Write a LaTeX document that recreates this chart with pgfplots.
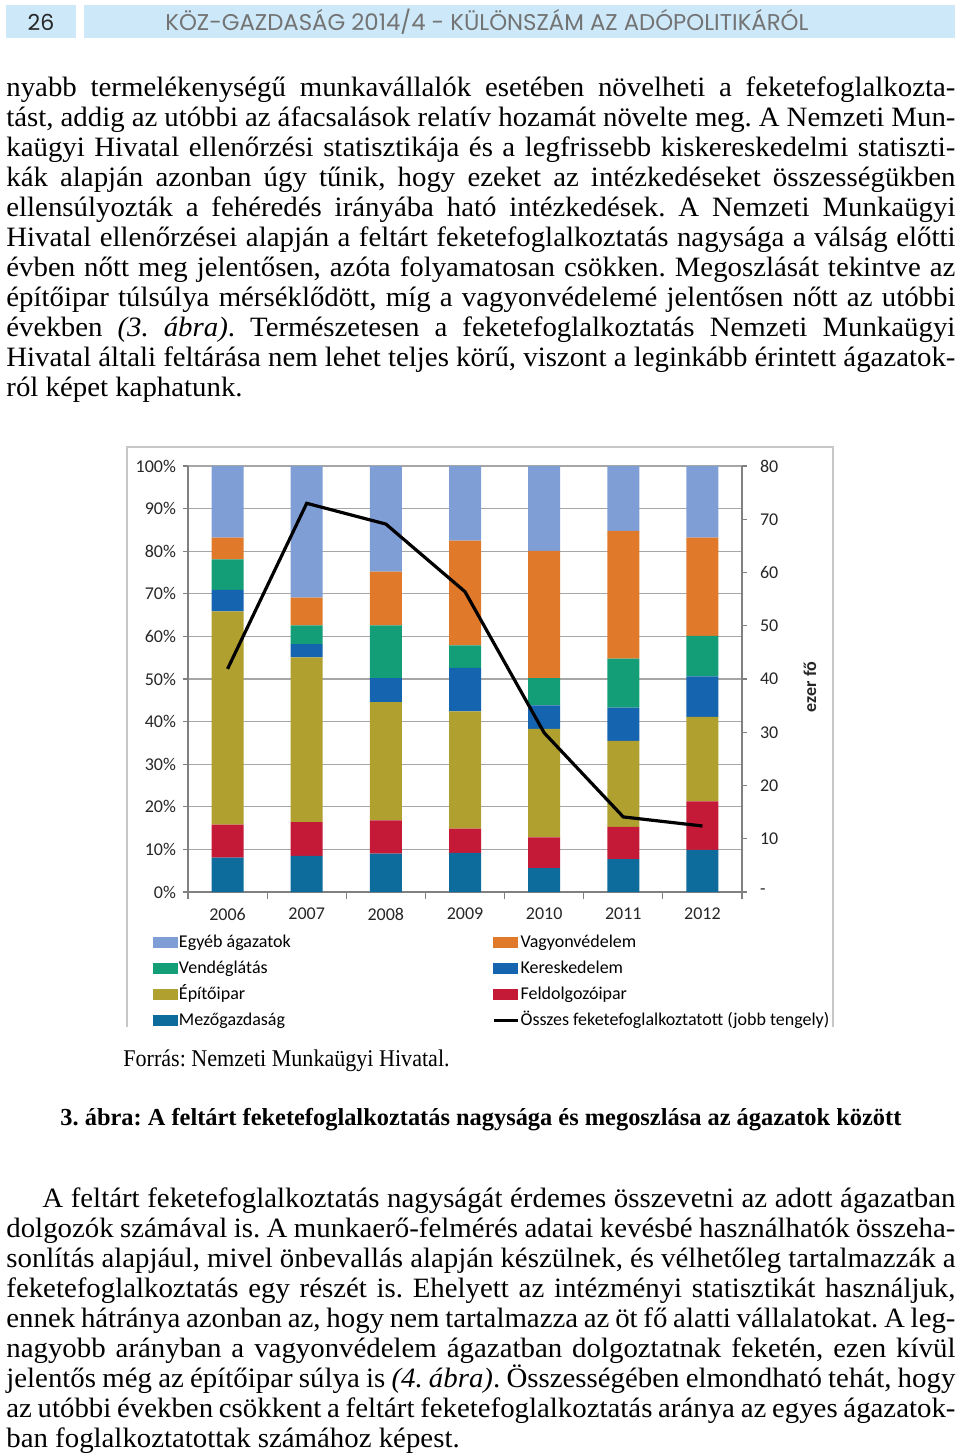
\documentclass[border=0pt]{standalone}
\usepackage{pgfplots}
\pgfplotsset{compat=1.18}
\usepackage{pgfplotstable}
\usepackage{fontspec}
\setmainfont{Liberation Serif}
\newfontfamily\bodyfont[FakeStretch=1.03]{Liberation Serif}
\newfontfamily\capfont[FakeStretch=0.92]{Liberation Serif}
\newfontfamily\chartfont{Carlito}
\newfontfamily\headfont{Poppins}

\definecolor{headblue}{RGB}{205,233,249}
\definecolor{cEgyeb}{RGB}{128,158,214}
\definecolor{cVagy}{RGB}{224,122,42}
\definecolor{cVend}{RGB}{19,158,120}
\definecolor{cKer}{RGB}{20,100,176}
\definecolor{cEpit}{RGB}{176,160,48}
\definecolor{cFeld}{RGB}{196,26,56}
\definecolor{cMezo}{RGB}{14,108,156}

% shares in %, bottom to top; osszes in thousand persons (right axis)
\pgfplotstableread{
x mezo feld epit ker vend vagy egyeb osszes
0 8.1 7.7 50.1 5.0 7.2 5.1 16.8 41.9
1 8.5 7.9 38.7 3.1 4.4 6.5 30.9 73.0
2 9.0 7.8 27.8 5.6 12.4 12.6 24.8 69.1
3 9.2 5.7 27.5 10.2 5.3 24.6 17.5 56.4
4 5.6 7.2 25.5 5.5 6.4 29.9 19.9 29.9
5 7.7 7.6 20.2 7.8 11.5 30.0 15.2 14.1
6 9.9 11.4 19.8 9.5 9.5 23.1 16.8 12.4
}\data

\newcommand\jl[1]{\hbox to 474.5pt{#1}}
\newcommand\cf{\chartfont\fontsize{9}{10.5}\selectfont}

\begin{document}
\frenchspacing
\begin{tikzpicture}[x=1pt,y=1pt]
\useasboundingbox (0,0) rectangle (480,-727);

% header
\fill[headblue] (3,-2.5) rectangle (38,-19);
\fill[headblue] (42,-2.5) rectangle (477.5,-19);
\node[font=\headfont\fontsize{11}{12}\selectfont, text=black!85] at (20.5,-11) {26};
\node[anchor=west, inner sep=0pt, font=\headfont\fontsize{11.4}{12}\selectfont, text=black!55] at (82.5,-11)
  {KÖZ-GAZDASÁG 2014/4 - KÜLÖNSZÁM AZ ADÓPOLITIKÁRÓL};

% top paragraph
\node[anchor=base west, inner sep=0pt] at (3,-48.5) {\vtop{\bodyfont\fontsize{14}{15}\selectfont
\jl{nyabb termelékenységű munkavállalók esetében növelheti a feketefoglalkozta-}
\jl{tást, addig az utóbbi az áfacsalások relatív hozamát növelte meg. A Nemzeti Mun-}
\jl{kaügyi Hivatal ellenőrzési statisztikája és a legfrissebb kiskereskedelmi statiszti-}
\jl{kák alapján azonban úgy tűnik, hogy ezeket az intézkedéseket összességükben}
\jl{ellensúlyozták a fehéredés irányába ható intézkedések. A Nemzeti Munkaügyi}
\jl{Hivatal ellenőrzései alapján a feltárt feketefoglalkoztatás nagysága a válság előtti}
\jl{évben nőtt meg jelentősen, azóta folyamatosan csökken. Megoszlását tekintve az}
\jl{építőipar túlsúlya mérséklődött, míg a vagyonvédelemé jelentősen nőtt az utóbbi}
\jl{években \textit{(3.~ábra)}. Természetesen a feketefoglalkoztatás Nemzeti Munkaügyi}
\jl{Hivatal általi feltárása nem lehet teljes körű, viszont a leginkább érintett ágazatok-}
\hbox{ról képet kaphatunk.}}};

% chart frame
\draw[black!22, line width=0.6pt] (63.5,-513.5) -- (63.5,-223.5) -- (416.5,-223.5) -- (416.5,-513.5);

\begin{axis}[
  at={(94pt,-446pt)}, anchor=south west,
  scale only axis, width=277pt, height=213pt,
  ybar stacked, bar width=16pt,
  xmin=-0.5, xmax=6.5, ymin=0, ymax=100,
  axis x line*=bottom, axis y line*=left,
  axis line style={black!50, line width=0.6pt},
  tick align=outside,
  xtick={0,...,6}, xticklabels={2006,2007,2008,2009,2010,2011,2012},
  major x tick style={draw=none},
  minor xtick={-0.5,0.5,...,6.5}, minor tick length=3.5pt,
  minor x tick style={black!50, line width=0.6pt},
  ytick={0,10,...,100}, major tick length=2.5pt,
  y tick style={black!50, line width=0.6pt},
  yticklabel={\pgfmathprintnumber{\tick}\%},
  /pgf/number format/assume math mode=true,
  ymajorgrids, grid style={black!35, line width=0.6pt},
  ticklabel style={font=\cf, text=black!85},
  xticklabel style={yshift=-2pt},
]
\addplot[fill=cMezo, draw=none] table[x=x, y=mezo] {\data};
\addplot[fill=cFeld, draw=none] table[x=x, y=feld] {\data};
\addplot[fill=cEpit, draw=none] table[x=x, y=epit] {\data};
\addplot[fill=cKer, draw=none] table[x=x, y=ker] {\data};
\addplot[fill=cVend, draw=none] table[x=x, y=vend] {\data};
\addplot[fill=cVagy, draw=none] table[x=x, y=vagy] {\data};
\addplot[fill=cEgyeb, draw=none] table[x=x, y=egyeb] {\data};
\end{axis}

\begin{axis}[
  at={(94pt,-446pt)}, anchor=south west,
  scale only axis, width=277pt, height=213pt,
  xmin=-0.5, xmax=6.5, ymin=0, ymax=80,
  axis x line=none, axis y line*=right,
  axis line style={black!50, line width=0.6pt},
  tick align=outside, major tick length=2.5pt,
  y tick style={black!50, line width=0.6pt},
  ytick={0,10,...,80}, yticklabels={-,10,20,30,40,50,60,70,80},
  ticklabel style={font=\cf, text=black!85},
  yticklabel style={xshift=3pt},
  legend columns=2,
  legend cell align=left,
  legend style={at={(axis description cs:-0.0632,-0.0953)}, anchor=north west,
    draw=none, fill=none, inner sep=0pt, outer sep=0pt, font=\cf,
    row sep=3pt, column sep=0pt,
    nodes={inner sep=0.6pt, text height=6.6pt, text depth=2.2pt}},
]
\addlegendimage{legend image code/.code={\fill[cEgyeb] (0pt,-2.4pt) rectangle (12pt,2.4pt);}}
\addlegendentry{\makebox[156pt][l]{Egyéb ágazatok}}
\addlegendimage{legend image code/.code={\fill[cVagy] (0pt,-2.4pt) rectangle (12pt,2.4pt);}}
\addlegendentry{Vagyonvédelem}
\addlegendimage{legend image code/.code={\fill[cVend] (0pt,-2.4pt) rectangle (12pt,2.4pt);}}
\addlegendentry{\makebox[156pt][l]{Vendéglátás}}
\addlegendimage{legend image code/.code={\fill[cKer] (0pt,-2.4pt) rectangle (12pt,2.4pt);}}
\addlegendentry{Kereskedelem}
\addlegendimage{legend image code/.code={\fill[cEpit] (0pt,-2.4pt) rectangle (12pt,2.4pt);}}
\addlegendentry{\makebox[156pt][l]{Építőipar}}
\addlegendimage{legend image code/.code={\fill[cFeld] (0pt,-2.4pt) rectangle (12pt,2.4pt);}}
\addlegendentry{Feldolgozóipar}
\addlegendimage{legend image code/.code={\fill[cMezo] (0pt,-2.4pt) rectangle (12pt,2.4pt);}}
\addlegendentry{\makebox[156pt][l]{Mezőgazdaság}}
\addlegendimage{legend image code/.code={\draw[black, line width=1.6pt] (0pt,0pt) -- (12pt,0pt);}}
\addlegendentry{Összes feketefoglalkoztatott (jobb tengely)}
\addplot[black, line width=1.6pt, forget plot] table[x=x, y=osszes] {\data};
\end{axis}

\node[rotate=90, font=\chartfont\bfseries\fontsize{9}{10}\selectfont, text=black!85] at (405,-343.5) {ezer fő};

% captions
\node[anchor=base west, inner sep=0pt, font=\capfont\fontsize{12}{14}\selectfont] at (61.5,-533) {Forrás: Nemzeti Munkaügyi Hivatal.};
\node[anchor=base west, inner sep=0pt, font=\bfseries\fontsize{12.2}{14}\selectfont] at (30,-562.5)
  {3. ábra: A feltárt feketefoglalkoztatás nagysága és megoszlása az ágazatok között};

% bottom paragraph
\node[anchor=base west, inner sep=0pt] at (3,-603.5) {\vtop{\bodyfont\fontsize{14}{15}\selectfont
\jl{\hspace*{18pt}A feltárt feketefoglalkoztatás nagyságát érdemes összevetni az adott ágazatban}
\jl{dolgozók számával is. A munkaerő-felmérés adatai kevésbé használhatók összeha-}
\jl{sonlítás alapjául, mivel önbevallás alapján készülnek, és vélhetőleg tartalmazzák a}
\jl{feketefoglalkoztatás egy részét is. Ehelyett az intézményi statisztikát használjuk,}
\jl{ennek hátránya azonban az, hogy nem tartalmazza az öt fő alatti vállalatokat. A leg-}
\jl{nagyobb arányban a vagyonvédelem ágazatban dolgoztatnak feketén, ezen kívül}
\jl{jelentős még az építőipar súlya is \textit{(4.~ábra)}. Összességében elmondható tehát, hogy}
\jl{az utóbbi években csökkent a feltárt feketefoglalkoztatás aránya az egyes ágazatok-}
\hbox{ban foglalkoztatottak számához képest.}}};
\end{tikzpicture}
\end{document}
